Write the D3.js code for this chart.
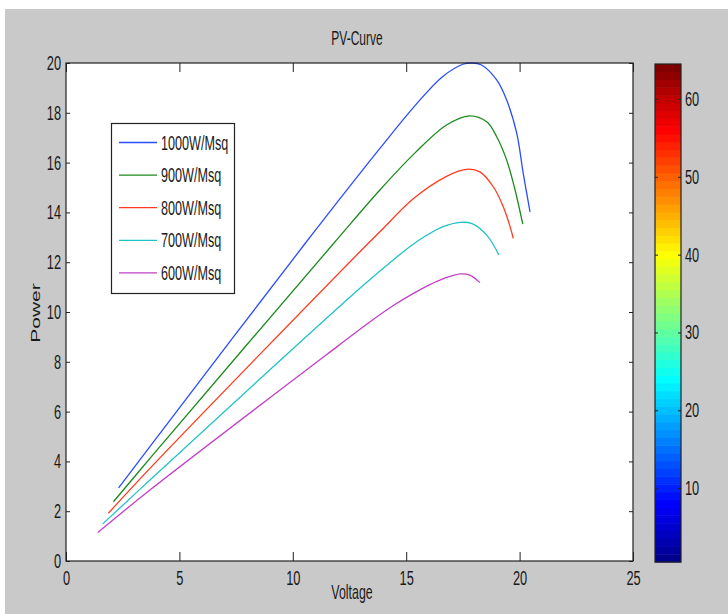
<!DOCTYPE html>
<html lang="en">
<head>
<meta charset="UTF-8" />
<title>PV-Curve</title>
<script src="https://d3js.org/d3.v7.min.js"></script>
<style>
  html, body { margin: 0; padding: 0; background: #fff; }
  svg { display: block; }
  text { font-family: "Liberation Sans", Arial, sans-serif; fill: #1a1a1a; }
</style>
</head>
<body>
<div id="chart"></div>
<script>
// values: [voltage, power]
const irradiance = ['1000W/Msq', '900W/Msq', '800W/Msq', '700W/Msq', '600W/Msq'];
const pv1000 = [[2.32,2.94],[3.7,4.59],[10.5,12.7],[13.84,16.57],[15.4,18.3],[16.6,19.45],[17.5,19.95],[17.9,20.0],[18.3,19.93],[18.99,19.32],[19.43,18.51],[19.87,17.19],[20.16,15.57],[20.46,14.02]];
const pv900  = [[2.09,2.38],[3.7,4.12],[11.75,12.7],[13.84,14.9],[15.4,16.4],[16.78,17.51],[17.78,17.88],[18.55,17.64],[18.99,17.04],[19.43,16.1],[19.8,14.9],[20.14,13.53]];
const pv800  = [[1.87,1.92],[3.7,3.72],[12.96,12.42],[13.84,13.22],[15.31,14.55],[16.78,15.45],[17.64,15.73],[18.25,15.63],[18.84,15.03],[19.28,14.23],[19.58,13.43],[19.72,12.96]];
const pv700  = [[1.62,1.49],[3.7,3.25],[12.96,10.95],[14.43,12.09],[15.2,12.65],[15.9,13.08],[16.6,13.42],[17.4,13.6],[17.9,13.55],[18.55,13.09],[19.09,12.29]];
const pv600  = [[1.4,1.14],[3.7,2.85],[12,8.64],[13.5,9.67],[14.5,10.3],[15.3,10.74],[16.0,11.08],[16.7,11.36],[17.4,11.53],[17.8,11.48],[18.25,11.18]];
const seriesColors = ['#2a4cff', '#1b8a1b', '#ff3a1e', '#20c2c6', '#c23fc8'];

const xTicks = [0, 5, 10, 15, 20, 25];
const yTicks = [0, 2, 4, 6, 8, 10, 12, 14, 16, 18, 20];
const cbTicks = [10, 20, 30, 40, 50, 60];
const cbLevels = d3.range(1, 65); // 64 colour cells, jet map

const W = 728, H = 614;
const K = 0.64; // the picture is squeezed sideways, so is the text

const svg = d3.select('#chart').append('svg').attr('width', W).attr('height', H);

// figure background
svg.append('rect').attr('x', 5).attr('y', 9).attr('width', W - 5).attr('height', H - 9).attr('fill', '#c9c9c9');

const x = d3.scaleLinear().domain([0, 25]).range([66, 633]);
const y = d3.scaleLinear().domain([0, 20]).range([561, 63]);

function squeezed(g, px, py, txt, size, k, anchor) {
  return g.append('text')
    .attr('transform', `translate(${px},${py}) scale(${k},1)`)
    .attr('text-anchor', anchor || 'middle')
    .style('font-size', size + 'px')
    .text(txt);
}

// plot area
svg.append('rect').attr('x', 66).attr('y', 63).attr('width', 567).attr('height', 498).attr('fill', '#fff');
svg.append('clipPath').attr('id', 'clip')
  .append('rect').attr('x', 66).attr('y', 62).attr('width', 567).attr('height', 499);

const line = d3.line().x(d => x(d[0])).y(d => y(d[1])).curve(d3.curveCatmullRom.alpha(0.5));
const allSeries = [pv1000, pv900, pv800, pv700, pv600];
const plot = svg.append('g').attr('clip-path', 'url(#clip)');
plot.selectAll('path').data(allSeries).join('path')
  .attr('d', line)
  .attr('fill', 'none')
  .attr('stroke', (d, i) => seriesColors[i])
  .attr('stroke-width', 1.3);

// axes, ticks inward like matlab
const axB = svg.append('g').attr('transform', 'translate(0,561)')
  .call(d3.axisBottom(x).tickValues(xTicks).tickSize(-9).tickPadding(10).tickFormat(d3.format('d')));
const axT = svg.append('g').attr('transform', 'translate(0,63)')
  .call(d3.axisTop(x).tickValues(xTicks).tickSize(-9).tickFormat(''));
const axL = svg.append('g').attr('transform', 'translate(66,0)')
  .call(d3.axisLeft(y).tickValues(yTicks).tickSize(-4).tickPadding(6).tickFormat(d3.format('d')));
const axR = svg.append('g').attr('transform', 'translate(633,0)')
  .call(d3.axisRight(y).tickValues(yTicks).tickSize(-4).tickFormat(''));

[axB, axT, axL, axR].forEach(a => {
  a.select('.domain').remove();
  a.selectAll('line').attr('stroke', '#222');
  a.selectAll('text').style('font-size', '20px').attr('fill', '#1a1a1a')
    .attr('transform', `scale(${K},1)`);
});
axL.selectAll('text').attr('x', -5 / K);

svg.append('rect').attr('x', 66).attr('y', 63).attr('width', 567).attr('height', 498)
  .attr('fill', 'none').attr('stroke', '#222').attr('stroke-width', 1.2);

// titles
squeezed(svg, 357, 45, 'PV-Curve', 20, 0.6);
squeezed(svg, 352, 599, 'Voltage', 20, 0.62);
svg.append('text')
  .attr('transform', `translate(40,313) scale(0.62,1) rotate(-90)`)
  .attr('text-anchor', 'middle')
  .style('font-size', '21px')
  .text('Power');

// legend
const leg = svg.append('g');
leg.append('rect').attr('x', 111.5).attr('y', 123.5).attr('width', 123).attr('height', 170)
  .attr('fill', '#fff').attr('stroke', '#222').attr('stroke-width', 1.2);
irradiance.forEach((name, i) => {
  const ly = 142.5 + i * 32.6;
  leg.append('line').attr('x1', 119).attr('x2', 157).attr('y1', ly).attr('y2', ly)
    .attr('stroke', seriesColors[i]).attr('stroke-width', 1.3);
  squeezed(leg, 161, ly + 7, name, 20, 0.63, 'start');
});

// colorbar
const cy = d3.scaleLinear().domain([0.5, 64.5]).range([562, 64]);
const jet = d3.scaleLinear()
  .domain([1, 8, 24, 40, 56, 64])
  .range(['#00008f', '#0000ff', '#00ffff', '#ffff00', '#ff0000', '#800000'])
  .interpolate(d3.interpolateRgb);
const cb = svg.append('g');
cb.selectAll('rect').data(cbLevels).join('rect')
  .attr('x', 655).attr('width', 26)
  .attr('y', d => cy(d + 0.5))
  .attr('height', d => cy(d - 0.5) - cy(d + 0.5) + 0.5)
  .attr('fill', d => jet(d));
const cbL = cb.append('g').attr('transform', 'translate(655,0)')
  .call(d3.axisRight(cy).tickValues(cbTicks).tickSize(3).tickFormat(''));
const cbR = cb.append('g').attr('transform', 'translate(681,0)')
  .call(d3.axisRight(cy).tickValues(cbTicks).tickSize(-3).tickPadding(4).tickFormat(d3.format('d')));
[cbL, cbR].forEach(a => {
  a.select('.domain').remove();
  a.selectAll('line').attr('stroke', '#222');
  a.selectAll('text').style('font-size', '20px').attr('fill', '#1a1a1a')
    .attr('transform', `scale(${K},1)`);
});
cbR.selectAll('text').attr('x', 4 / K);
cb.append('rect').attr('x', 655).attr('y', 64).attr('width', 26).attr('height', 498)
  .attr('fill', 'none').attr('stroke', '#222').attr('stroke-width', 1.2);
</script>
</body>
</html>
